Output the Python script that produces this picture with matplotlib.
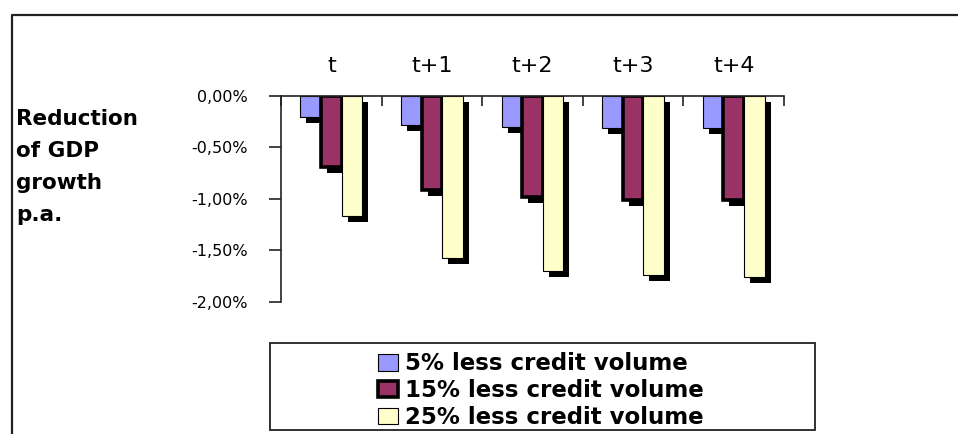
import numpy as np
import matplotlib
matplotlib.use("Agg")
import matplotlib.pyplot as plt
from matplotlib.transforms import ScaledTranslation
from matplotlib.patches import Patch, Rectangle
from matplotlib.lines import Line2D
from matplotlib.ticker import FixedLocator, FuncFormatter

# ---- data ----
categories = ["t", "t+1", "t+2", "t+3", "t+4"]
less5 = [-0.21, -0.29, -0.31, -0.32, -0.32]
less15 = [-0.69, -0.92, -0.98, -1.01, -1.01]
less25 = [-1.17, -1.58, -1.70, -1.74, -1.76]
series_labels = ["5% less credit volume", "15% less credit volume", "25% less credit volume"]
y_ticks = [0.0, -0.5, -1.0, -1.5, -2.0]
y_label = "Reduction\nof GDP\ngrowth\np.a."

colors = ["#9999FF", "#993366", "#FFFFCC"]
edge_widths = [0.8, 2.6, 0.8]

plt.rcParams["font.family"] = ["DejaVu Sans"]

W, H = 958, 434
fig = plt.figure(figsize=(W / 100, H / 100), dpi=100)
ax = fig.add_axes([281 / W, 1 - 301.7 / H, 503 / W, 206.2 / H])

x = np.arange(len(categories)) + 0.5
w = 0.205
offsets = [-w, 0.0, w]
series = [less5, less15, less25]

shadow_tr = ax.transData + ScaledTranslation(6 / 100, -6 / 100, fig.dpi_scale_trans)
for vals, off in zip(series, offsets):
    ax.bar(x + off, vals, width=w, color="black", linewidth=0, transform=shadow_tr, zorder=1)
for vals, off, c, lw in zip(series, offsets, colors, edge_widths):
    ax.bar(x + off, vals, width=w, color=c, edgecolor="black", linewidth=lw, zorder=2)

ax.set_xlim(0, len(categories))
ax.set_ylim(-2.0, 0.0)

# axes styling
for s in ["right", "bottom"]:
    ax.spines[s].set_visible(False)
for s in ["top", "left"]:
    ax.spines[s].set_linewidth(1.2)
    ax.spines[s].set_color("#222222")

ax.xaxis.tick_top()
ax.xaxis.set_major_locator(FixedLocator(np.arange(len(categories) + 1)))
ax.xaxis.set_minor_locator(FixedLocator(x))
ax.set_xticklabels([])
ax.set_xticklabels(categories, minor=True)
ax.tick_params(axis="x", which="major", direction="in", length=7, width=1.2,
               color="#222222", top=True, bottom=False, labeltop=False, labelbottom=False)
ax.tick_params(axis="x", which="minor", length=0, pad=14, labelsize=16,
               top=True, bottom=False, labeltop=True, labelbottom=False)

ax.yaxis.set_major_locator(FixedLocator(y_ticks))
ax.yaxis.set_major_formatter(FuncFormatter(
    lambda v, p: ("%.2f%%" % (0.0 if abs(v) < 1e-9 else v)).replace(".", ",")))
ax.tick_params(axis="y", direction="out", length=9, width=1.2, color="#222222",
               pad=15, labelsize=11.5)

# y label block
fig.text(16 / W, 1 - 109 / H, y_label, ha="left", va="top", fontsize=15.5,
         fontweight="bold", linespacing=1.74)

# legend with its own frame
handles = [Patch(facecolor=c, edgecolor="black", linewidth=lw)
           for c, lw in zip(colors, edge_widths)]
fig.legend(handles, series_labels, loc="center", bbox_to_anchor=(541 / W, 1 - 390.5 / H),
           bbox_transform=fig.transFigure, frameon=False,
           prop={"weight": "bold", "size": 16.5}, handlelength=0.85, handleheight=0.75,
           handletextpad=0.3, labelspacing=0.17, borderpad=0.0)
fig.add_artist(Rectangle((270 / W, 1 - 430 / H), 545 / W, 87 / H, transform=fig.transFigure,
                         facecolor="none", edgecolor="#222222", linewidth=1.3))

# outer chart frame (left and top edges visible)
fig.add_artist(Line2D([12 / W, 12 / W, 1.0], [0.0, 1 - 15 / H, 1 - 15 / H],
                      transform=fig.transFigure, color="#222222", linewidth=1.6))

fig.savefig("out.png", dpi=100)
